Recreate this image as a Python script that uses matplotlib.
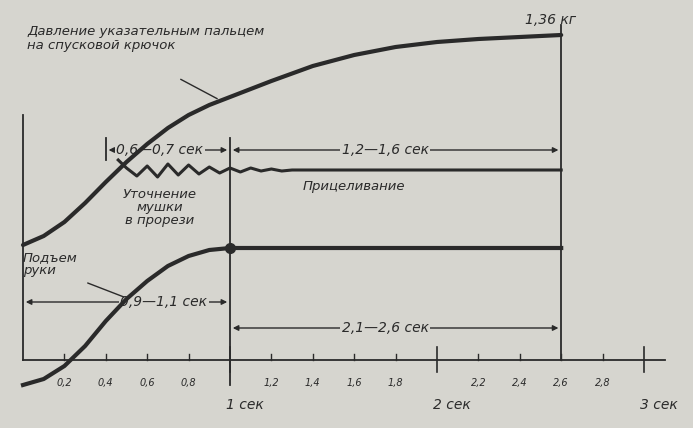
import matplotlib
matplotlib.use("Agg")
import matplotlib.pyplot as plt
import numpy as np

# data (x in seconds, y in scanned-figure units, 0 at top)
press_x = [0, 0.1, 0.2, 0.3, 0.4, 0.5, 0.6, 0.7, 0.8, 0.9, 1.0, 1.2, 1.4, 1.6, 1.8, 2.0, 2.2, 2.4, 2.6]
press_y = [245, 236, 222, 203, 182, 162, 144, 128, 115, 105, 97, 81, 66, 55, 47, 42, 39, 37, 35]
arm_x = [0, 0.1, 0.2, 0.3, 0.4, 0.5, 0.6, 0.7, 0.8, 0.9, 1.0, 2.6]
arm_y = [385, 379, 366, 346, 321, 299, 281, 266, 256, 250, 248, 248]
aim_x = [0.46, 0.5, 0.55, 0.6, 0.65, 0.7, 0.75, 0.8, 0.85, 0.9, 0.95, 1.0, 1.05, 1.1, 1.15, 1.2, 1.25, 1.3, 2.6]
aim_y = [160, 168, 176, 166, 177, 164, 175, 165, 174, 167, 173, 168, 172, 168, 171, 169, 171, 170, 170]
minor_ticks = [0.2, 0.4, 0.6, 0.8, 1.2, 1.4, 1.6, 1.8, 2.2, 2.4, 2.6, 2.8]
minor_labels = ["0,2", "0,4", "0,6", "0,8", "1,2", "1,4", "1,6", "1,8", "2,2", "2,4", "2,6", "2,8"]
major_ticks = [1, 2, 3]
major_labels = ["1 сек", "2 сек", "3 сек"]

bg = "#d6d5cf"
ink = "#2a2a2a"
fig = plt.figure(figsize=(6.93, 4.28), dpi=100, facecolor=bg)
ax = fig.add_axes([0, 0, 1, 1], facecolor=bg)
X0, S = 23, 207
ax.set_xlim(-X0 / S, (693 - X0) / S)
ax.set_ylim(428, 0)
ax.axis("off")

ax.plot(press_x, press_y, color=ink, lw=3, solid_capstyle="round", solid_joinstyle="round", zorder=3)
ax.plot(arm_x, arm_y, color=ink, lw=3, solid_joinstyle="round", zorder=3)
ax.plot(aim_x, aim_y, color=ink, lw=2.2, solid_joinstyle="round", zorder=3)
ax.plot([1.0], [248], "o", color=ink, ms=7, zorder=4)

# verticals
ax.plot([0, 0], [115, 360], color=ink, lw=1.3)
ax.plot([1, 1], [138, 385], color=ink, lw=1.3)
ax.plot([2.6, 2.6], [25, 360], color=ink, lw=1.3)
ax.plot([0.4, 0.4], [138, 160], color=ink, lw=1.3)

# time axis
ax.plot([0, 3.1], [360, 360], color=ink, lw=1.3)
for t in minor_ticks:
    ax.plot([t, t], [354, 360], color=ink, lw=1)
for t, l in zip(minor_ticks, minor_labels):
    ax.text(t, 383, l, ha="center", va="center", fontsize=7, style="italic", color=ink)
for t, l in zip(major_ticks, major_labels):
    ax.plot([t, t], [347, 372], color=ink, lw=1.2)
    ax.text(t + 0.07, 405, l, ha="center", va="center", fontsize=10, style="italic", color=ink)

def dim(x1, x2, y, label, lx):
    ax.annotate("", xy=(x1, y), xytext=(x2, y),
                arrowprops=dict(arrowstyle="<|-|>", color=ink, lw=1, mutation_scale=8), zorder=1)
    ax.text(lx, y, label, ha="center", va="center", fontsize=10, style="italic",
            color=ink, zorder=2, bbox=dict(facecolor=bg, edgecolor="none", pad=1))

dim(0.4, 1.0, 150, "0,6—0,7 сек", 0.66)
dim(1.0, 2.6, 150, "1,2—1,6 сек", 1.75)
dim(0.0, 1.0, 302, "0,9—1,1 сек", 0.68)
dim(1.0, 2.6, 328, "2,1—2,6 сек", 1.75)

ax.text(2.55, 20, "1,36 кг", ha="center", va="center", fontsize=10, style="italic", color=ink)
ax.text(0.02, 38, "Давление указательным пальцем\nна спусковой крючок", ha="left", va="center",
        fontsize=9.5, style="italic", color=ink, linespacing=1.1)
ax.annotate("", xy=(0.95, 100), xytext=(0.75, 78), arrowprops=dict(arrowstyle="-", color=ink, lw=1))
ax.text(0.66, 207, "Уточнение\nмушки\nв прорези", ha="center", va="center",
        fontsize=9.5, style="italic", color=ink, linespacing=1.0)
ax.text(1.6, 186, "Прицеливание", ha="center", va="center", fontsize=9.5, style="italic", color=ink)
ax.text(0.0, 264, "Подъем\nруки", ha="left", va="center", fontsize=9.5, style="italic",
        color=ink, linespacing=1.0)
ax.annotate("", xy=(0.5, 298), xytext=(0.3, 282), arrowprops=dict(arrowstyle="-", color=ink, lw=1))

fig.savefig("out.png", dpi=100, facecolor=bg)
